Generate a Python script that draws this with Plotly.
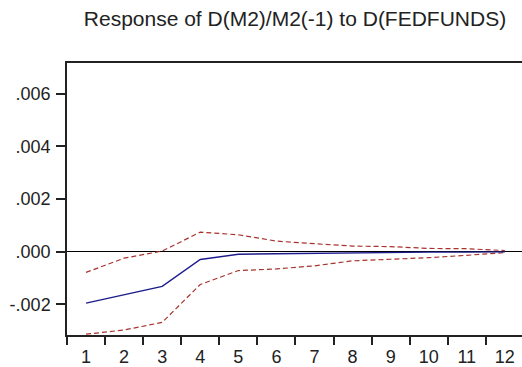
import plotly.graph_objects as go

periods = [str(i) for i in range(1, 13)]
response = [-0.00196, -0.00165, -0.00132, -0.00030, -0.00010, -0.00008,
            -0.00006, -0.00004, -0.00003, -0.00002, -0.00002, -0.00001]
upper = [-0.00079, -0.00025, 0.00002, 0.00074, 0.00064, 0.00040,
         0.00030, 0.00021, 0.00019, 0.00012, 0.00011, 0.00004]
lower = [-0.00314, -0.00298, -0.00269, -0.00125, -0.00072, -0.00066,
         -0.00054, -0.00035, -0.00029, -0.00023, -0.00014, -0.00004]
ytick_vals = [-0.002, 0.0, 0.002, 0.004, 0.006]
ytick_text = ["-.002", ".000", ".002", ".004", ".006"]

band_color = "#a8322d"
line_color = "#1c1c8c"

fig = go.Figure()
fig.add_trace(go.Scatter(x=periods, y=upper, mode="lines",
                         line=dict(color=band_color, width=1.2, dash="5px,3px")))
fig.add_trace(go.Scatter(x=periods, y=lower, mode="lines",
                         line=dict(color=band_color, width=1.2, dash="5px,3px")))
fig.add_trace(go.Scatter(x=periods, y=response, mode="lines",
                         line=dict(color=line_color, width=1.4)))

fig.update_layout(
    width=522, height=367,
    margin=dict(l=67, r=0, t=63, b=30),
    paper_bgcolor="white", plot_bgcolor="white",
    showlegend=False,
    font=dict(family="Liberation Sans, Arial, sans-serif", size=18, color="#222"),
    title=dict(text="Response of D(M2)/M2(-1) to D(FEDFUNDS)",
               x=295 / 522, xanchor="center", xref="container",
               y=1 - 19 / 367, yanchor="middle", yref="container",
               font=dict(size=21, color="#222")),
)
fig.update_xaxes(
    type="category", range=[-0.5, 11.45],
    tickson="boundaries", ticks="outside", ticklen=8, tickwidth=1.5,
    tickcolor="#222", showline=True, linecolor="#222", linewidth=1.5,
    mirror=True, showgrid=False, zeroline=False,
    tickfont=dict(size=18), ticklabelstandoff=5,
)
fig.update_yaxes(
    range=[-0.00317, 0.00717],
    tickvals=ytick_vals, ticktext=ytick_text,
    ticks="outside", ticklen=9, tickwidth=1.5, tickcolor="#222",
    showline=True, linecolor="#222", linewidth=1.5, mirror=False,
    showgrid=False, zeroline=True, zerolinecolor="black", zerolinewidth=1.2,
    tickfont=dict(size=18), ticklabelstandoff=2,
)

fig.write_html("out.html")
